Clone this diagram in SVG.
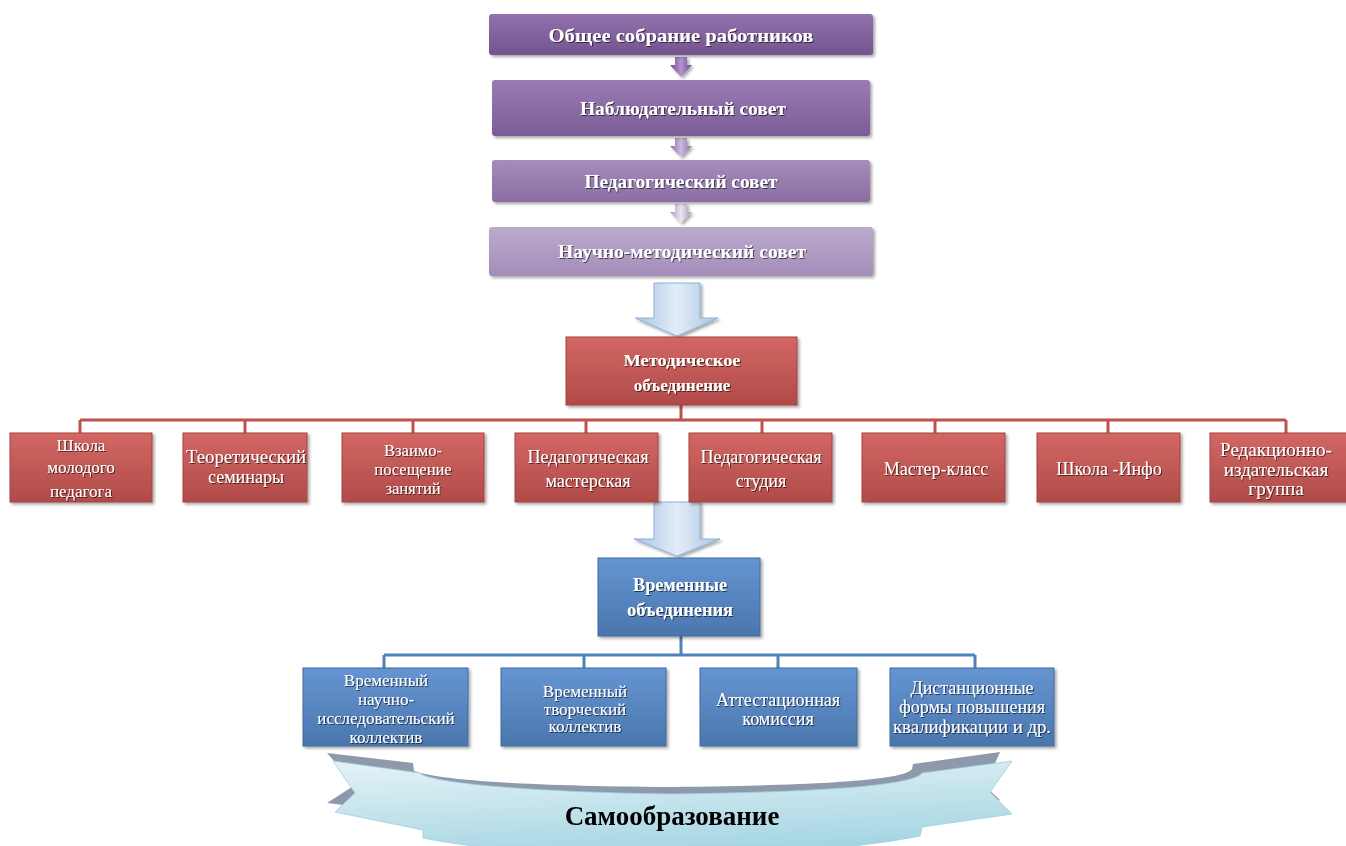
<svg xmlns="http://www.w3.org/2000/svg" width="1346" height="846" viewBox="0 0 1346 846">
<defs>
<linearGradient id="gP1" x1="0" y1="0" x2="0" y2="1"><stop offset="0" stop-color="#9272ac"/><stop offset="1" stop-color="#74538f"/></linearGradient>
<linearGradient id="gP2" x1="0" y1="0" x2="0" y2="1"><stop offset="0" stop-color="#9a7cb3"/><stop offset="1" stop-color="#7c5c97"/></linearGradient>
<linearGradient id="gP3" x1="0" y1="0" x2="0" y2="1"><stop offset="0" stop-color="#a68cbc"/><stop offset="1" stop-color="#8a6ea3"/></linearGradient>
<linearGradient id="gP4" x1="0" y1="0" x2="0" y2="1"><stop offset="0" stop-color="#bcaacd"/><stop offset="1" stop-color="#a48dba"/></linearGradient>
<linearGradient id="gR" x1="0" y1="0" x2="0" y2="1"><stop offset="0" stop-color="#d26764"/><stop offset="1" stop-color="#b04b48"/></linearGradient>
<linearGradient id="gB" x1="0" y1="0" x2="0" y2="1"><stop offset="0" stop-color="#6595d2"/><stop offset="1" stop-color="#4a76ad"/></linearGradient>
<linearGradient id="gArr" x1="0" y1="0" x2="1" y2="0"><stop offset="0" stop-color="#a9c3e4"/><stop offset="0.5" stop-color="#e3edf8"/><stop offset="1" stop-color="#a9c3e4"/></linearGradient>
<linearGradient id="gSmall1" x1="0" y1="0" x2="1" y2="0"><stop offset="0" stop-color="#6f4a8c"/><stop offset="0.5" stop-color="#b493cf"/><stop offset="1" stop-color="#6f4a8c"/></linearGradient>
<linearGradient id="gSmall2" x1="0" y1="0" x2="1" y2="0"><stop offset="0" stop-color="#8a6ca4"/><stop offset="0.5" stop-color="#cdb9de"/><stop offset="1" stop-color="#8a6ca4"/></linearGradient>
<linearGradient id="gSmall3" x1="0" y1="0" x2="1" y2="0"><stop offset="0" stop-color="#a995bb"/><stop offset="0.5" stop-color="#ece4f3"/><stop offset="1" stop-color="#a995bb"/></linearGradient>
<linearGradient id="gRib" x1="0" y1="0" x2="0.3" y2="1"><stop offset="0" stop-color="#e6f3f7"/><stop offset="1" stop-color="#a6d6e3"/></linearGradient>
<filter id="sh" x="-10%" y="-10%" width="125%" height="140%"><feDropShadow dx="2" dy="2" stdDeviation="1.5" flood-color="#000" flood-opacity="0.35"/></filter>
<filter id="tsh" x="-10%" y="-30%" width="120%" height="170%"><feDropShadow dx="1" dy="1" stdDeviation="0.6" flood-color="#000" flood-opacity="0.6"/></filter>
</defs>
<style>
.tb{font-family:"Liberation Serif","Times New Roman",serif;font-weight:bold;fill:#fff;text-anchor:middle;filter:url(#tsh)}
.tr{font-family:"Liberation Serif","Times New Roman",serif;fill:#fff;text-anchor:middle;filter:url(#tsh)}
.bx{filter:url(#sh)}
.red{fill:url(#gR);stroke:#a9403d;stroke-width:1}
.blu{fill:url(#gB);stroke:#3f6a9e;stroke-width:1}
.cr{stroke:#c0504d;stroke-width:3;fill:none}
.cb{stroke:#4f81bd;stroke-width:3;fill:none}
</style>
<rect width="1346" height="846" fill="#fff"/>

<g id="connectors">
<path class="cr" d="M681,405V420M80,420H1286M80,420V433M245,420V433M413,420V433M586,420V433M762,420V433M935,420V433M1108,420V433M1286,420V433"/>
<path class="cb" d="M681,636V655M384,655H975M384,655V668M584,655V668M778,655V668M975,655V668"/>
<path fill="url(#gSmall1)" filter="url(#sh)" d="M675,57H687V65H692L681,77L670,65H675Z"/>
<path fill="url(#gSmall2)" filter="url(#sh)" d="M675,138H687V146H692L681,157L670,146H675Z"/>
<path fill="url(#gSmall3)" filter="url(#sh)" d="M675,204H687V212H692L681,223L670,212H675Z"/>
<path fill="url(#gArr)" stroke="#8fb0d8" stroke-width="1" filter="url(#sh)" d="M654,283H700V318H718L677,336L635,318H654Z"/>
<path fill="url(#gArr)" stroke="#8fb0d8" stroke-width="1" filter="url(#sh)" d="M654,502H700V539H720L677,556L634,539H654Z"/>
</g>

<g id="n-obshee" class="bx"><rect x="489" y="14" width="384" height="41" rx="3" fill="url(#gP1)"/><text class="tb" x="681" y="42" font-size="19" textLength="265" lengthAdjust="spacingAndGlyphs">Общее собрание работников</text></g>
<g id="n-nablud" class="bx"><rect x="492" y="80" width="378" height="56" rx="3" fill="url(#gP2)"/><text class="tb" x="683" y="115" font-size="18" textLength="206" lengthAdjust="spacingAndGlyphs">Наблюдательный совет</text></g>
<g id="n-pedsovet" class="bx"><rect x="492" y="160" width="378" height="42" rx="3" fill="url(#gP3)"/><text class="tb" x="681" y="188" font-size="18" textLength="193" lengthAdjust="spacingAndGlyphs">Педагогический совет</text></g>
<g id="n-nms" class="bx"><rect x="489" y="227" width="384" height="49" rx="3" fill="url(#gP4)"/><text class="tb" x="682" y="258" font-size="18" textLength="248" lengthAdjust="spacingAndGlyphs">Научно-методический совет</text></g>

<g id="n-mo" class="bx"><rect x="566" y="337" width="231" height="68" class="red"/><text class="tb" x="682" y="366" font-size="17" textLength="117" lengthAdjust="spacingAndGlyphs">Методическое</text><text class="tb" x="682" y="391" font-size="17">объединение</text></g>

<g id="n-r1" class="bx"><rect x="10" y="433" width="142" height="69" class="red"/><text class="tr" x="81" y="451" font-size="17">Школа</text><text class="tr" x="81" y="473" font-size="17">молодого</text><text class="tr" x="81" y="497" font-size="17">педагога</text></g>
<g id="n-r2" class="bx"><rect x="183" y="433" width="124" height="69" class="red"/><text class="tr" x="246" y="463" font-size="18" textLength="120" lengthAdjust="spacingAndGlyphs">Теоретический</text><text class="tr" x="246" y="483" font-size="18">семинары</text></g>
<g id="n-r3" class="bx"><rect x="342" y="433" width="142" height="69" class="red"/><text class="tr" x="413" y="456" font-size="16.5">Взаимо-</text><text class="tr" x="413" y="475" font-size="16.5">посещение</text><text class="tr" x="413" y="494" font-size="16.5">занятий</text></g>
<g id="n-r4" class="bx"><rect x="515" y="433" width="143" height="69" class="red"/><text class="tr" x="588" y="463" font-size="18">Педагогическая</text><text class="tr" x="588" y="487" font-size="18">мастерская</text></g>
<g id="n-r5" class="bx"><rect x="689" y="433" width="143" height="69" class="red"/><text class="tr" x="761" y="463" font-size="18">Педагогическая</text><text class="tr" x="761" y="487" font-size="18">студия</text></g>
<g id="n-r6" class="bx"><rect x="862" y="433" width="143" height="69" class="red"/><text class="tr" x="936" y="475" font-size="18">Мастер-класс</text></g>
<g id="n-r7" class="bx"><rect x="1037" y="433" width="143" height="69" class="red"/><text class="tr" x="1109" y="475" font-size="18">Школа -Инфо</text></g>
<g id="n-r8" class="bx"><rect x="1210" y="433" width="140" height="69" class="red"/><text class="tr" x="1276" y="456" font-size="19">Редакционно-</text><text class="tr" x="1276" y="476" font-size="19">издательская</text><text class="tr" x="1276" y="495" font-size="19">группа</text></g>

<g id="n-vo" class="bx"><rect x="598" y="558" width="162" height="78" class="blu"/><text class="tb" x="680" y="591" font-size="18" textLength="94" lengthAdjust="spacingAndGlyphs">Временные</text><text class="tb" x="680" y="616" font-size="18" textLength="106" lengthAdjust="spacingAndGlyphs">объединения</text></g>

<g id="n-b1" class="bx"><rect x="303" y="668" width="165" height="78" class="blu"/><text class="tr" x="386" y="686" font-size="17">Временный</text><text class="tr" x="386" y="705" font-size="17">научно-</text><text class="tr" x="386" y="724" font-size="17">исследовательский</text><text class="tr" x="386" y="743" font-size="17">коллектив</text></g>
<g id="n-b2" class="bx"><rect x="501" y="668" width="165" height="78" class="blu"/><text class="tr" x="585" y="697" font-size="17">Временный</text><text class="tr" x="585" y="715" font-size="17">творческий</text><text class="tr" x="585" y="732" font-size="17">коллектив</text></g>
<g id="n-b3" class="bx"><rect x="700" y="668" width="157" height="78" class="blu"/><text class="tr" x="778" y="706" font-size="18">Аттестационная</text><text class="tr" x="778" y="725" font-size="18">комиссия</text></g>
<g id="n-b4" class="bx"><rect x="890" y="668" width="164" height="78" class="blu"/><text class="tr" x="972" y="694" font-size="18">Дистанционные</text><text class="tr" x="972" y="713" font-size="18">формы повышения</text><text class="tr" x="972" y="733" font-size="18" textLength="158" lengthAdjust="spacingAndGlyphs">квалификации и др.</text></g>

<g id="n-samo">
<path fill="#8e9aab" d="M327,753L413,763L414,771C440,780 520,786 672,787C840,785 905,779 912,769L913,764L1000,752L985,786L1000,800L923,815L923,825C860,835 760,842 672,842C560,842 470,835 423,825L423,815L327,803L355,785Z"/>
<path fill="url(#gRib)" stroke="#9ccfdc" stroke-width="0.8" d="M333,761L420,773C428,782 520,792 672,794C840,792 915,784 922,773L1012,761L990,792L1012,814L922,827L920,836C860,848 760,856 672,856C560,856 470,848 423,838L423,830L335,812L355,793Z"/>
<text x="672" y="825" font-family="'Liberation Serif','Times New Roman',serif" font-weight="bold" font-size="27" fill="#000" text-anchor="middle">Самообразование</text>
</g>
</svg>
